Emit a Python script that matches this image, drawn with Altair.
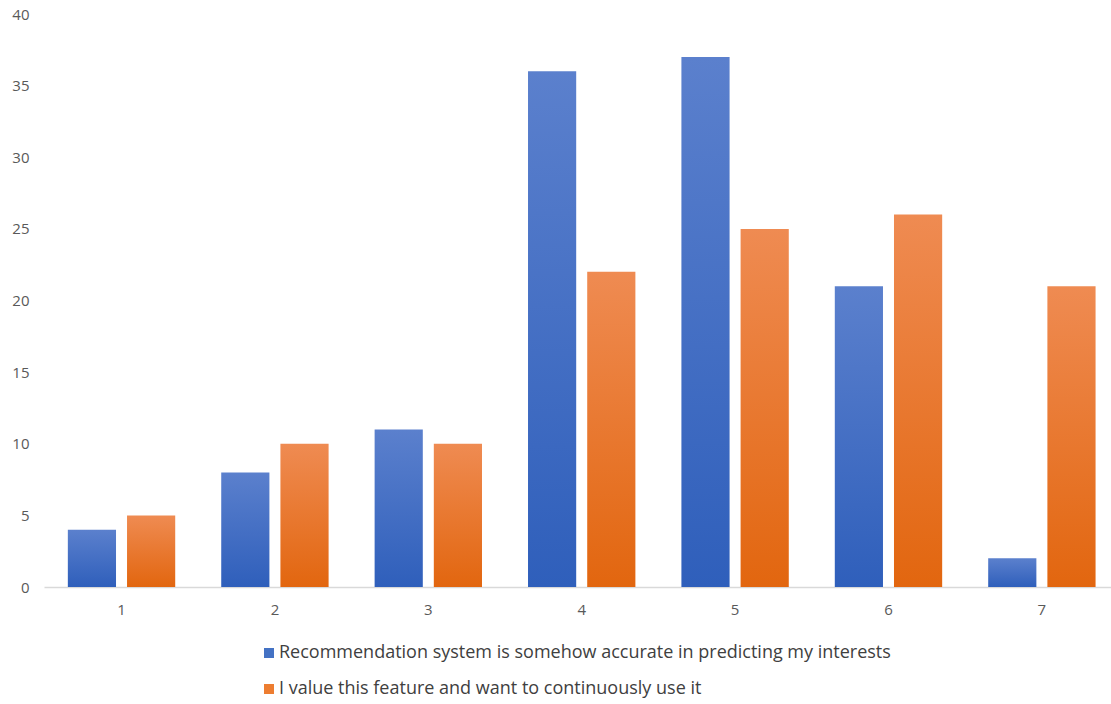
import altair as alt
import pandas as pd

# Survey answers on a 1-7 scale, count of respondents per answer
scale_points = ["1", "2", "3", "4", "5", "6", "7"]
accurate_counts = [4, 8, 11, 36, 37, 21, 2]
value_counts = [5, 10, 10, 22, 25, 26, 21]

series_names = [
    "Recommendation system is somehow accurate in predicting my interests",
    "I value this feature and want to continuously use it",
]
solid_colors = ["#4472c4", "#ed7d31"]

rows = []
for p, a, v in zip(scale_points, accurate_counts, value_counts):
    rows.append({"point": p, "series": series_names[0], "count": a})
    rows.append({"point": p, "series": series_names[1], "count": v})
df = pd.DataFrame(rows)


def vgradient(top, bottom):
    return {
        "gradient": "linear",
        "x1": 0, "y1": 0, "x2": 0, "y2": 1,
        "stops": [{"offset": 0, "color": top}, {"offset": 1, "color": bottom}],
    }


x_enc = alt.X(
    "point:N",
    sort=scale_points,
    scale=alt.Scale(paddingInner=0.3, paddingOuter=0.128, align=0.607),
    axis=alt.Axis(
        title=None, labelAngle=0, ticks=False, domainColor="#d9d9d9",
        domainWidth=1.5, labelColor="#595959", labelFontSize=15,
        labelPadding=15, labelFont="Open Sans",
    ),
)
y_enc = alt.Y(
    "count:Q",
    scale=alt.Scale(domain=[0, 40], nice=False),
    axis=alt.Axis(
        title=None, values=list(range(0, 41, 5)), grid=False, ticks=False,
        domain=False, labelColor="#595959", labelFontSize=15,
        labelPadding=15, labelFont="Open Sans",
    ),
)
offset_enc = alt.XOffset(
    "series:N",
    scale=alt.Scale(domain=series_names, paddingInner=0.186, paddingOuter=0),
)

base = alt.Chart(df)

blue_bars = base.transform_filter(
    alt.datum.series == series_names[0]
).mark_bar(color=vgradient("#5b80cd", "#2f5fbb")).encode(
    x=x_enc, y=y_enc, xOffset=offset_enc
)

orange_bars = base.transform_filter(
    alt.datum.series == series_names[1]
).mark_bar(color=vgradient("#ef8b52", "#e2660f")).encode(
    x=x_enc, y=y_enc, xOffset=offset_enc
)

# Invisible marks that carry the legend
legend_layer = base.mark_square(opacity=0, size=0).encode(
    x=x_enc,
    y=y_enc,
    color=alt.Color(
        "series:N",
        scale=alt.Scale(domain=series_names, range=solid_colors),
        legend=alt.Legend(
            title=None, orient="none", legendX=216, legendY=630,
            direction="vertical", symbolType="square", symbolSize=100,
            symbolOpacity=1, symbolStrokeWidth=0, labelFontSize=18,
            labelColor="#404040", labelFont="Open Sans", labelOffset=1,
            rowPadding=18, labelLimit=800,
        ),
    ),
)

chart = alt.layer(blue_bars, orange_bars, legend_layer).properties(
    width=1067,
    height=573,
    padding={"left": 44, "top": 14, "right": 0, "bottom": 117},
    autosize=alt.AutoSizeParams(type="none"),
).configure_view(stroke=None)

chart.save("out.html", embed_options={"renderer": "svg", "actions": False})
